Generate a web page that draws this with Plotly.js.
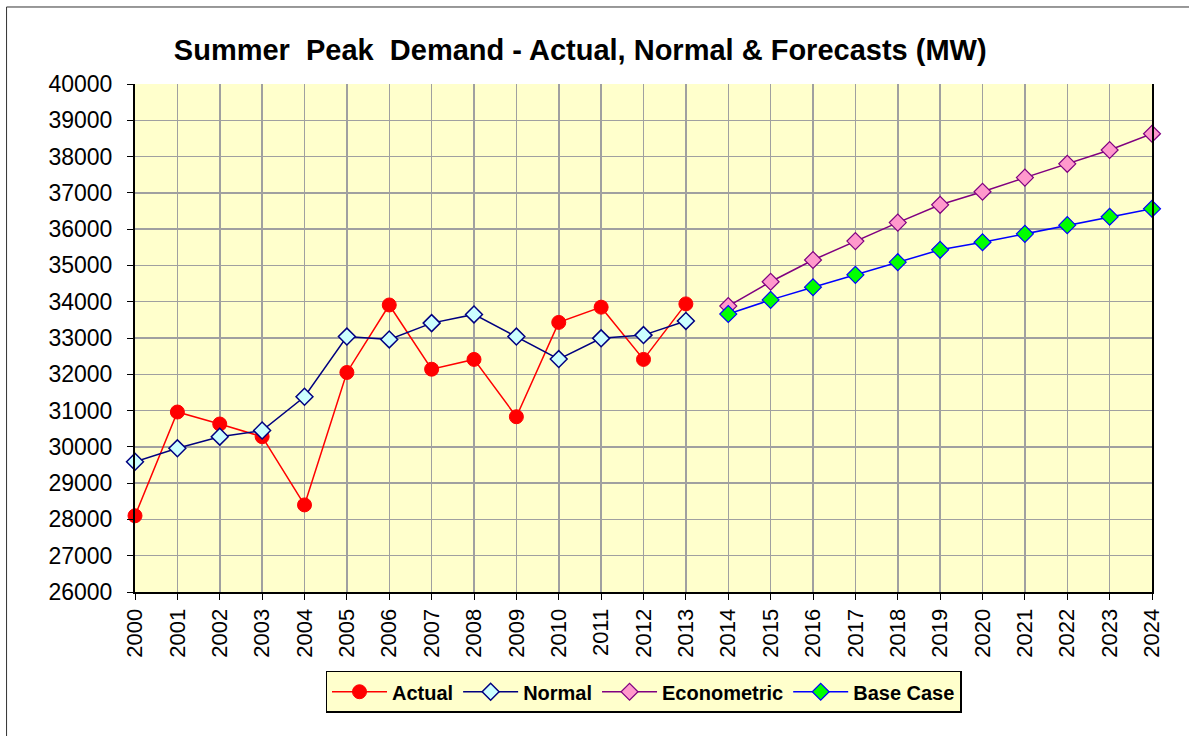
<!DOCTYPE html>
<html>
<head>
<meta charset="utf-8">
<script src="https://cdn.plot.ly/plotly-3.0.1.min.js"></script>
<style>html,body{margin:0;padding:0;background:#fff;}#chart{width:1189px;height:736px;}</style>
</head>
<body>
<div id="chart"></div>
<script>
const histYears = [2000,2001,2002,2003,2004,2005,2006,2007,2008,2009,2010,2011,2012,2013];
const actual = [28100,30960,30630,30280,28400,32050,33910,32140,32410,30830,33430,33850,32410,33940];
const normal = [29590,29960,30280,30450,31380,33040,32960,33410,33650,33040,32420,32990,33080,33470];
const fcstYears = [2014,2015,2016,2017,2018,2019,2020,2021,2022,2023,2024];
const econometric = [33880,34550,35150,35670,36180,36670,37030,37420,37800,38180,38630];
const baseCase = [33660,34050,34400,34740,35090,35430,35640,35870,36110,36340,36560];
const yTicks = [26000,27000,28000,29000,30000,31000,32000,33000,34000,35000,36000,37000,38000,39000,40000];

const FONT = 'Liberation Sans, Arial, Helvetica, sans-serif';

const traces = [
  {x: histYears, y: actual, name: 'Actual', type: 'scatter', mode: 'lines+markers', cliponaxis: false,
   line: {color: '#FF0000', width: 1.5},
   marker: {symbol: 'circle', size: 14, color: '#FF0000', line: {color: '#FF0000', width: 1}}},
  {x: histYears, y: normal, name: 'Normal', type: 'scatter', mode: 'lines+markers', cliponaxis: false,
   line: {color: '#000080', width: 1.5},
   marker: {symbol: 'diamond', size: 13, color: '#CCFFFF', line: {color: '#000080', width: 1.5}}},
  {x: fcstYears, y: econometric, name: 'Econometric', type: 'scatter', mode: 'lines+markers', cliponaxis: false,
   line: {color: '#800080', width: 1.5},
   marker: {symbol: 'diamond', size: 13, color: '#FF99CC', line: {color: '#800080', width: 1.2}}},
  {x: fcstYears, y: baseCase, name: 'Base Case', type: 'scatter', mode: 'lines+markers', cliponaxis: false,
   line: {color: '#0000FF', width: 1.5},
   marker: {symbol: 'diamond', size: 13, color: '#00FF00', line: {color: '#0000FF', width: 1.2}}}
];

const layout = {
  width: 1189, height: 736,
  margin: {l: 135, r: 37, t: 84, b: 144},
  paper_bgcolor: '#FFFFFF',
  plot_bgcolor: '#FFFFCC',
  font: {family: FONT, color: '#000'},
  title: {text: 'Summer\u00a0 Peak\u00a0 Demand - Actual, Normal & Forecasts (MW)',
          font: {family: FONT, size: 29, color: '#000', weight: 'bold'},
          x: 0.488, xanchor: 'center', xref: 'container', y: 0.932, yanchor: 'middle'},
  xaxis: {range: [2000, 2024], tickmode: 'linear', tick0: 2000, dtick: 1,
          tickangle: -90, tickfont: {family: FONT, size: 22},
          showgrid: true, gridcolor: '#A0A0A0', gridwidth: 1.5,
          showline: true, linecolor: '#000', linewidth: 2,
          ticks: 'outside', ticklen: 6, tickcolor: '#000', tickwidth: 1,
          zeroline: false, fixedrange: true},
  yaxis: {range: [26000, 40000], tickmode: 'array', tickvals: yTicks, ticktext: yTicks.map(String),
          tickfont: {family: FONT, size: 23},
          showgrid: true, gridcolor: '#A0A0A0', gridwidth: 1.5,
          showline: true, linecolor: '#000', linewidth: 2, mirror: true,
          ticks: 'outside', ticklen: 6, tickcolor: '#000', tickwidth: 1,
          ticklabelstandoff: 10,
          zeroline: false, fixedrange: true},
  showlegend: true,
  legend: {orientation: 'h', x: 0.5, xanchor: 'center', y: -0.155, yanchor: 'top',
           bgcolor: '#FFFFCC', bordercolor: '#000', borderwidth: 1.5,
           font: {family: FONT, size: 20, color: '#000', weight: 'bold'},
           itemwidth: 55, tracegroupgap: 0},
  shapes: [
    {type: 'rect', xref: 'paper', yref: 'paper', x0: -0.1263, x1: 1.2, y0: -0.5, y1: 1.1516,
     line: {color: '#333', width: 1}, fillcolor: 'rgba(0,0,0,0)', layer: 'below'}
  ]
};

Plotly.newPlot('chart', traces, layout, {displayModeBar: false, staticPlot: true});
</script>
</body>
</html>
